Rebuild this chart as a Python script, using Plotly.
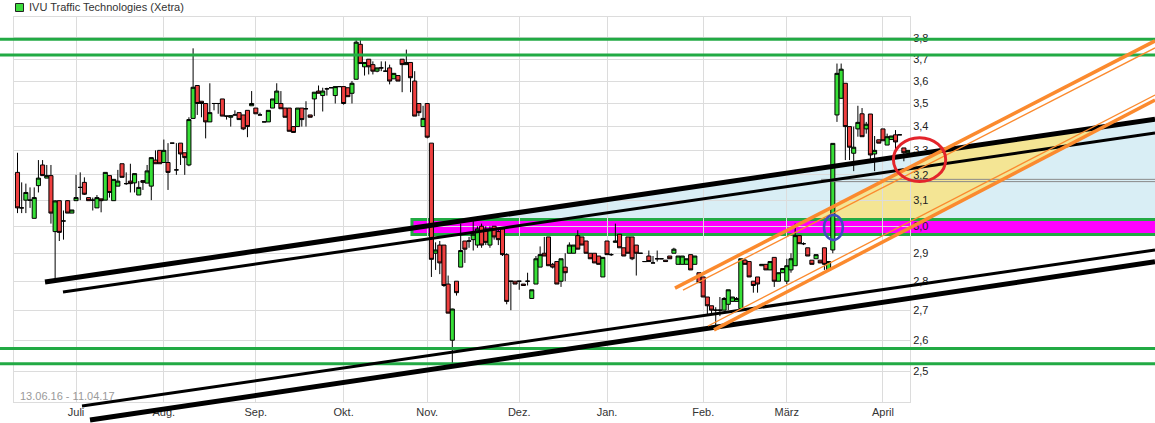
import math
import plotly.graph_objects as go

# ---------------------------------------------------------------- data
# trading days per calendar month, 13.06.16 .. 11.04.17
days_per_month = [14, 21, 22, 21, 20, 22, 21, 23, 20, 23, 7]
month_labels = ["Juli", "Aug.", "Sep.", "Okt.", "Nov.", "Dez.", "Jan.", "Feb.", "März", "April"]
price_ticks = [2.5, 2.6, 2.7, 2.8, 2.9, 3.0, 3.1, 3.2, 3.3, 3.4, 3.5, 3.6, 3.7, 3.8]

opens = [
    3.21, 3.07, 3.10, 3.10, 3.03, 3.157, 3.24, 3.187, 3.197, 2.98,
    3.098, 3.02, 3.098, 3.05, 3.098, 3.15, 3.17, 3.11, 3.10, 3.07,
    3.105, 3.10, 3.197, 3.098, 3.155, 3.245, 3.165, 3.175, 3.168, 3.12,
    3.177, 3.167, 3.155, 3.26, 3.30, 3.25, 3.25, 3.33, 3.22, 3.33,
    3.29, 3.24, 3.435, 3.58, 3.51, 3.50, 3.42, 3.50, 3.50, 3.52,
    3.445, 3.44, 3.45, 3.46, 3.45, 3.47, 3.49, 3.48, 3.45, 3.42,
    3.42, 3.48, 3.50, 3.50, 3.48, 3.48, 3.40, 3.40, 3.48, 3.477,
    3.45, 3.52, 3.555, 3.535, 3.565, 3.57, 3.535, 3.575, 3.575, 3.57,
    3.545, 3.608, 3.77, 3.665, 3.70, 3.675, 3.645, 3.66, 3.645, 3.66,
    3.61, 3.625, 3.70, 3.675, 3.685, 3.60, 3.50, 3.40, 3.50, 3.33,
    2.90, 2.93, 2.93, 2.79, 2.60, 2.80, 2.85, 2.945, 2.945, 2.95,
    2.93, 3.00, 2.99, 2.93, 3.00, 2.98, 2.99, 2.895, 2.80, 2.80,
    2.80, 2.79, 2.80, 2.74, 2.79, 2.85, 2.90, 2.96, 2.86, 2.87,
    2.80, 2.85, 2.90, 2.90, 2.965, 2.96, 2.945, 2.90, 2.90, 2.89,
    2.815, 2.945, 2.895, 2.94, 2.97, 2.92, 2.96, 2.96, 2.93, 2.90,
    2.87, 2.89, 2.865, 2.88, 2.88, 2.875, 2.89, 2.90, 2.86, 2.86,
    2.86, 2.895, 2.86, 2.83, 2.815, 2.745, 2.715, 2.70, 2.70, 2.70,
    2.72, 2.73, 2.73, 2.705, 2.875, 2.87, 2.80, 2.815, 2.855, 2.86,
    2.84, 2.885, 2.80, 2.83, 2.80, 2.84, 2.855, 2.965, 2.935, 2.92,
    2.875, 2.88, 2.875, 2.92, 2.84, 2.912, 3.45, 3.523, 3.59, 3.40,
    3.288, 3.39, 3.455, 3.39, 3.454, 3.285, 3.344, 3.39, 3.322, 3.345,
    3.365, 3.365, 3.31, 3.29,
]
highs = [
    3.29, 3.17, 3.165, 3.15, 3.15, 3.26, 3.26, 3.24, 3.24, 3.10,
    3.098, 3.06, 3.10, 3.062, 3.20, 3.21, 3.19, 3.11, 3.11, 3.12,
    3.105, 3.21, 3.197, 3.182, 3.22, 3.245, 3.21, 3.245, 3.205, 3.175,
    3.177, 3.24, 3.27, 3.30, 3.30, 3.345, 3.33, 3.33, 3.33, 3.33,
    3.29, 3.44, 3.751, 3.58, 3.51, 3.50, 3.59, 3.50, 3.50, 3.52,
    3.445, 3.447, 3.47, 3.46, 3.45, 3.47, 3.555, 3.48, 3.46, 3.42,
    3.47, 3.52, 3.59, 3.555, 3.48, 3.48, 3.40, 3.48, 3.48, 3.51,
    3.45, 3.55, 3.58, 3.57, 3.57, 3.57, 3.575, 3.575, 3.575, 3.57,
    3.60, 3.80, 3.80, 3.685, 3.70, 3.69, 3.66, 3.69, 3.69, 3.675,
    3.635, 3.625, 3.70, 3.745, 3.685, 3.645, 3.50, 3.49, 3.50, 3.33,
    2.94, 2.945, 2.93, 2.82, 2.705, 2.80, 3.01, 2.945, 2.96, 3.02,
    3.00, 3.01, 3.00, 3.00, 3.00, 2.99, 2.99, 2.90, 2.80, 2.80,
    2.80, 2.79, 2.83, 2.77, 2.89, 2.925, 2.96, 2.96, 2.865, 2.87,
    2.88, 2.90, 2.94, 2.93, 2.985, 2.96, 2.945, 2.90, 2.90, 2.89,
    2.885, 2.945, 2.90, 3.01, 2.97, 2.92, 2.96, 2.96, 2.93, 2.90,
    2.87, 2.91, 2.89, 2.91, 2.88, 2.875, 2.89, 2.92, 2.89, 2.89,
    2.88, 2.895, 2.89, 2.83, 2.815, 2.745, 2.715, 2.71, 2.745, 2.745,
    2.77, 2.745, 2.745, 2.88, 2.88, 2.87, 2.80, 2.815, 2.86, 2.86,
    2.87, 2.885, 2.83, 2.845, 2.88, 2.90, 3.01, 2.965, 2.94, 2.92,
    2.875, 2.895, 2.875, 2.92, 2.87, 3.329, 3.68, 3.68, 3.59, 3.40,
    3.40, 3.49, 3.48, 3.42, 3.454, 3.36, 3.344, 3.39, 3.37, 3.36,
    3.385, 3.365, 3.31, 3.30,
]
lows = [
    3.05, 3.05, 3.05, 3.07, 3.03, 3.13, 3.197, 3.187, 3.01, 2.80,
    2.945, 2.95, 3.05, 3.05, 3.098, 3.10, 3.12, 3.098, 3.06, 3.07,
    3.053, 3.10, 3.11, 3.098, 3.155, 3.19, 3.16, 3.13, 3.13, 3.12,
    3.14, 3.167, 3.10, 3.245, 3.245, 3.25, 3.14, 3.33, 3.20, 3.24,
    3.20, 3.235, 3.435, 3.45, 3.44, 3.35, 3.42, 3.47, 3.455, 3.445,
    3.43, 3.40, 3.45, 3.43, 3.385, 3.355, 3.49, 3.455, 3.45, 3.42,
    3.42, 3.48, 3.50, 3.477, 3.44, 3.38, 3.375, 3.40, 3.40, 3.40,
    3.44, 3.445, 3.545, 3.465, 3.535, 3.57, 3.50, 3.575, 3.495, 3.53,
    3.50, 3.608, 3.68, 3.625, 3.63, 3.63, 3.64, 3.645, 3.645, 3.585,
    3.61, 3.60, 3.55, 3.675, 3.55, 3.445, 3.445, 3.40, 3.35, 2.815,
    2.84, 2.825, 2.78, 2.69, 2.526, 2.75, 2.85, 2.865, 2.92, 2.91,
    2.92, 2.92, 2.93, 2.92, 2.95, 2.93, 2.89, 2.72, 2.70, 2.79,
    2.77, 2.785, 2.785, 2.74, 2.79, 2.85, 2.89, 2.855, 2.845, 2.79,
    2.78, 2.80, 2.90, 2.90, 2.915, 2.93, 2.90, 2.88, 2.865, 2.86,
    2.815, 2.895, 2.89, 2.94, 2.92, 2.89, 2.90, 2.875, 2.82, 2.90,
    2.87, 2.87, 2.865, 2.87, 2.88, 2.87, 2.88, 2.90, 2.86, 2.86,
    2.86, 2.84, 2.86, 2.795, 2.745, 2.685, 2.685, 2.65, 2.68, 2.70,
    2.70, 2.73, 2.73, 2.70, 2.86, 2.815, 2.76, 2.76, 2.855, 2.84,
    2.84, 2.78, 2.80, 2.83, 2.79, 2.83, 2.855, 2.935, 2.93, 2.89,
    2.86, 2.88, 2.865, 2.84, 2.84, 2.90, 3.42, 3.52, 3.26, 3.26,
    3.215, 3.357, 3.357, 3.37, 3.26, 3.215, 3.33, 3.34, 3.322, 3.345,
    3.29, 3.365, 3.255, 3.29,
]
closes = [
    3.07, 3.07, 3.13, 3.10, 3.11, 3.187, 3.197, 3.197, 3.05, 3.097,
    2.977, 3.02, 3.05, 3.062, 3.11, 3.15, 3.123, 3.098, 3.10, 3.11,
    3.098, 3.21, 3.13, 3.182, 3.175, 3.19, 3.165, 3.165, 3.205, 3.15,
    3.17, 3.216, 3.27, 3.245, 3.245, 3.30, 3.21, 3.33, 3.22, 3.285,
    3.27, 3.43, 3.572, 3.50, 3.50, 3.42, 3.46, 3.50, 3.50, 3.445,
    3.445, 3.447, 3.45, 3.43, 3.39, 3.40, 3.50, 3.455, 3.45, 3.42,
    3.47, 3.52, 3.555, 3.477, 3.44, 3.38, 3.375, 3.48, 3.43, 3.477,
    3.44, 3.55, 3.545, 3.555, 3.565, 3.57, 3.575, 3.575, 3.50, 3.53,
    3.59, 3.78, 3.68, 3.685, 3.665, 3.645, 3.66, 3.66, 3.645, 3.60,
    3.635, 3.60, 3.675, 3.685, 3.615, 3.445, 3.46, 3.435, 3.355, 2.878,
    2.912, 2.865, 2.785, 2.69, 2.704, 2.76, 2.91, 2.915, 2.945, 2.97,
    2.99, 2.93, 2.94, 2.99, 2.96, 2.95, 2.895, 2.73, 2.80, 2.79,
    2.80, 2.785, 2.80, 2.77, 2.88, 2.895, 2.89, 2.855, 2.85, 2.79,
    2.88, 2.83, 2.93, 2.93, 2.915, 2.93, 2.90, 2.88, 2.865, 2.86,
    2.885, 2.895, 2.895, 2.945, 2.92, 2.89, 2.90, 2.88, 2.90, 2.90,
    2.87, 2.87, 2.865, 2.88, 2.88, 2.87, 2.88, 2.915, 2.89, 2.89,
    2.88, 2.84, 2.89, 2.795, 2.745, 2.715, 2.70, 2.70, 2.70, 2.74,
    2.77, 2.745, 2.74, 2.88, 2.86, 2.815, 2.785, 2.79, 2.86, 2.84,
    2.87, 2.80, 2.83, 2.845, 2.855, 2.88, 2.965, 2.935, 2.935, 2.89,
    2.86, 2.895, 2.865, 2.86, 2.87, 3.329, 3.635, 3.654, 3.40, 3.313,
    3.313, 3.418, 3.357, 3.41, 3.281, 3.30, 3.33, 3.34, 3.357, 3.36,
    3.335, 3.365, 3.29, 3.30,
]

# drawing tools: (trading-day index, price) anchor pairs
black_upper_thick = [(6.58, 2.797), (272.07, 3.432)]
black_upper_thin = [(10.88, 2.762), (272.07, 3.373)]
black_lower_thin = [(15.43, 2.394), (272.07, 2.912)]
black_lower_thick = [(17.34, 2.352), (272.07, 2.869)]
orange_upper_thick = [(157.26, 2.776), (272.07, 3.786)]
orange_upper_thin = [(159.17, 2.769), (272.07, 3.753)]
orange_lower_thin = [(165.15, 2.647), (272.07, 3.5375)]
orange_lower_thick = [(166.58, 2.634), (272.07, 3.515)]
green_levels = [3.794, 3.720, 2.573, 2.524]
band_start, band_low, band_high = 94.35, 2.969, 3.026
grey_start, grey_levels = 192.2, [3.182, 3.173]
blue_ring = (192.9, 197.4, 2.949, 3.043)
red_ring = (209.5, 222.0, 3.173, 3.353)

# ---------------------------------------------------------------- geometry
W, H = 1155, 423
PX_PER_DAY = 4.181
FIRST_PX = 17.5
FRAME_L, FRAME_R, FRAME_T, FRAME_B = 14, 910, 17.3, 402
Y_LO, Y_HI = 2.406, 3.9

def day_at(px):
    return (px - FIRST_PX) / PX_PER_DAY

log_lo, log_hi = math.log10(Y_LO), math.log10(Y_HI)
px_per_log = (FRAME_B - FRAME_T) / (log_hi - log_lo)
full_y_range = [log_lo - (H - FRAME_B) / px_per_log, log_hi + FRAME_T / px_per_log]
days = list(range(len(opens)))
month_starts = [sum(days_per_month[:i + 1]) for i in range(len(month_labels))]


def _lin(line):
    (xa, pa), (xb, pb) = line
    m = (math.log(pb) - math.log(pa)) / (xb - xa)
    return xa, math.log(pa), m


def meet(l1, l2):
    x1, y1, m1 = _lin(l1)
    x2, y2, m2 = _lin(l2)
    x = (y2 - y1 + m1 * x1 - m2 * x2) / (m1 - m2)
    return x, math.exp(y1 + m1 * (x - x1))


def at_level(line, price):
    x1, y1, m1 = _lin(line)
    return x1 + (math.log(price) - y1) / m1, price


def path(points):
    return "M " + " L ".join(f"{x:.4f},{y:.5f}" for x, y in points) + " Z"


def seg(line, color, width):
    (xa, pa), (xb, pb) = line
    return dict(type="line", xref="x", yref="y", x0=xa, y0=pa, x1=xb, y1=pb,
                line=dict(color=color, width=width), layer="above")


right_day = day_at(W)
shapes = []
# light blue zone between the upper trend line and the band
blue_zone = [at_level(black_upper_thick, band_high), black_upper_thick[1], (right_day, band_high)]
shapes.append(dict(type="path", xref="x", yref="y", path=path(blue_zone),
                   fillcolor="#d9eef5", line=dict(width=0), layer="below"))
# yellow zone inside the orange channel
yellow_zone = [at_level(orange_upper_thick, band_high), meet(orange_upper_thick, black_upper_thick),
               meet(orange_lower_thick, black_upper_thick), at_level(orange_lower_thick, band_high)]
shapes.append(dict(type="path", xref="x", yref="y", path=path(yellow_zone),
                   fillcolor="#f4e594", line=dict(width=0), layer="below"))
# magenta support band
shapes.append(dict(type="rect", xref="x", yref="y", x0=band_start, x1=right_day + 5,
                   y0=band_low, y1=band_high, fillcolor="#ff00ff",
                   line=dict(color="#22aa44", width=3), layer="below"))

for lvl in grey_levels:
    shapes.append(dict(type="line", xref="x", yref="y", x0=grey_start, x1=right_day + 5,
                       y0=lvl, y1=lvl, line=dict(color="#8a8a8a", width=1), layer="above"))
for lvl in green_levels:
    shapes.append(dict(type="line", xref="x", yref="y", x0=day_at(-5), x1=right_day + 5,
                       y0=lvl, y1=lvl, line=dict(color="#22aa44", width=3), layer="above"))

shapes += [
    seg(black_upper_thick, "black", 5),
    seg(black_upper_thin, "black", 3),
    seg(black_lower_thin, "black", 3),
    seg(black_lower_thick, "black", 5),
    seg(orange_upper_thick, "#fb8a2e", 3.5),
    seg(orange_upper_thin, "#fb8a2e", 1.3),
    seg(orange_lower_thin, "#fb8a2e", 1.3),
    seg(orange_lower_thick, "#fb8a2e", 3.5),
]
for ring, color, width in [(blue_ring, "#3f4fbf", 2.5), (red_ring, "#e3242b", 3)]:
    shapes.append(dict(type="circle", xref="x", yref="y", x0=ring[0], x1=ring[1],
                       y0=ring[2], y1=ring[3], line=dict(color=color, width=width), layer="above"))

# legend swatch
shapes.append(dict(type="rect", xref="paper", yref="paper", x0=15.5 / W, x1=23.5 / W,
                   y0=1 - 11.5 / H, y1=1 - 3.5 / H, fillcolor="#3ddc3d",
                   line=dict(color="#222", width=1), layer="above"))

# ---------------------------------------------------------------- figure
fig = go.Figure()
# full-width carrier for drawing tools
fig.add_trace(go.Scatter(x=[None], y=[None], xaxis="x", yaxis="y", showlegend=False,
                         hoverinfo="skip"))
fig.add_trace(go.Candlestick(
    x=days, open=opens, high=highs, low=lows, close=closes,
    xaxis="x2", yaxis="y2", whiskerwidth=0, showlegend=False,
    increasing=dict(fillcolor="#37e037", line=dict(color="black", width=1)),
    decreasing=dict(fillcolor="#ef3f3f", line=dict(color="black", width=1)),
))

fig.update_layout(
    width=W, height=H, autosize=False,
    margin=dict(l=0, r=0, t=0, b=0),
    paper_bgcolor="white", plot_bgcolor="rgba(0,0,0,0)",
    font=dict(family="Liberation Sans, Arial, sans-serif", size=11, color="#333"),
    separators=",.",
    boxgap=0.03, boxgroupgap=0,
    showlegend=False,
    xaxis=dict(domain=[0, 1], range=[day_at(0), day_at(W)], visible=False, fixedrange=True),
    yaxis=dict(domain=[0, 1], type="log", range=full_y_range, visible=False, fixedrange=True),
    xaxis2=dict(
        domain=[FRAME_L / W, FRAME_R / W], anchor="y2",
        range=[day_at(FRAME_L), day_at(FRAME_R)],
        tickmode="array", tickvals=month_starts, ticktext=month_labels,
        showgrid=True, gridcolor="#dcdcdc", gridwidth=1, zeroline=False,
        showline=True, linecolor="#dcdcdc", linewidth=1, mirror=True, ticks="",
        tickfont=dict(size=11, color="#333"), rangeslider=dict(visible=False),
    ),
    yaxis2=dict(
        domain=[1 - FRAME_B / H, 1 - FRAME_T / H], anchor="x2", side="right",
        type="log", range=[log_lo, log_hi],
        tickmode="array", tickvals=price_ticks, tickformat=".1f",
        showgrid=True, gridcolor="#dcdcdc", gridwidth=1, zeroline=False,
        showline=True, linecolor="#dcdcdc", linewidth=1, mirror=True, ticks="",
        tickfont=dict(size=11, color="#222"),
    ),
    shapes=shapes,
    annotations=[
        dict(xref="paper", yref="paper", x=27 / W, y=1 - 7.5 / H, xanchor="left", yanchor="middle",
             text="IVU Traffic Technologies (Xetra)", showarrow=False,
             font=dict(size=11, color="#333")),
        dict(xref="paper", yref="paper", x=18 / W, y=1 - 396 / H, xanchor="left", yanchor="middle",
             text="13.06.16 - 11.04.17", showarrow=False,
             font=dict(size=11, color="#9a9a9a")),
    ],
)

fig.write_html("out.html")
